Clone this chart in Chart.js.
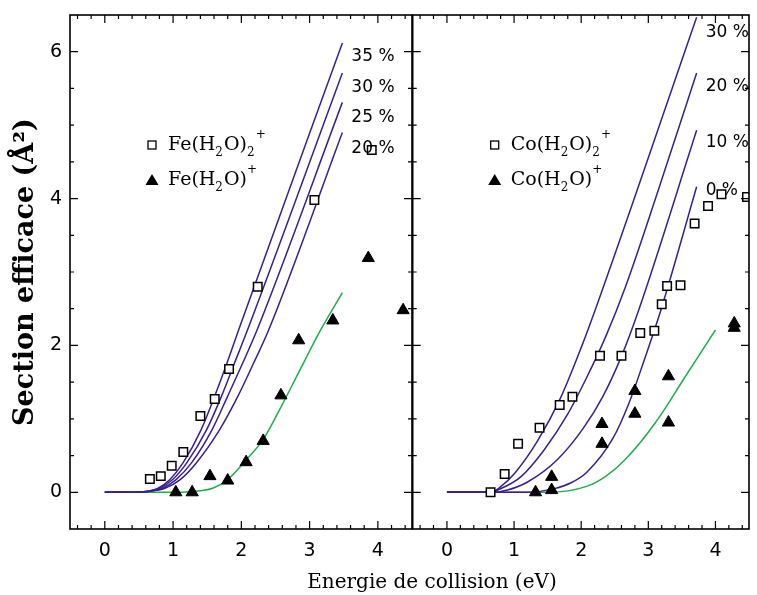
<!DOCTYPE html>
<html>
<head>
<meta charset="utf-8">
<script src="https://cdn.jsdelivr.net/npm/chart.js@4.4.1/dist/chart.umd.min.js"></script>
<style>
  body { margin: 0; background: #fff; }
  #wrap { position: relative; width: 757px; height: 595px; overflow: hidden; background: #fff; }
  #cLeft { position: absolute; left: 0; top: 0; }
  #cRight { position: absolute; left: 400px; top: 0; }
  #xTitle {
    position: absolute; left: 432px; top: 571px; transform: translateX(-50%);
    font: 20px "DejaVu Serif"; line-height: 1; white-space: nowrap; color: #000;
  }
</style>
</head>
<body>
<div id="wrap">
  <canvas id="cLeft" width="420" height="595"></canvas>
  <canvas id="cRight" width="357" height="595"></canvas>
  <div id="xTitle">Energie de collision (eV)</div>
</div>
<script>
// axes
const xTicks = [0, 1, 2, 3, 4];
const yTicks = [0, 2, 4, 6];

// panneau Fe : points mesurés
const feDimer = [[0.66,0.18],[0.82,0.22],[0.98,0.36],[1.15,0.55],[1.40,1.04],[1.61,1.27],[1.82,1.68],[2.24,2.80],[3.07,3.98],[3.91,4.66]];
const feMono = [[1.04,0],[1.28,0],[1.54,0.22],[1.80,0.16],[2.07,0.41],[2.32,0.70],[2.58,1.32],[2.84,2.07],[3.34,2.34],[3.86,3.19],[4.37,2.48]];

// panneau Fe : courbes modèles
const feFit35 = [[0,0],[0.45,0],[0.61,0.01],[0.78,0.055],[0.95,0.17],[1.145,0.40],[1.41,0.85],[1.61,1.31],[1.79,1.76],[1.96,2.21],[3.48,6.12]];
const feFit30 = [[0,0],[0.45,0],[0.61,0.01],[0.80,0.055],[0.99,0.17],[1.20,0.40],[1.49,0.85],[1.71,1.31],[1.90,1.76],[2.09,2.21],[3.48,5.71]];
const feFit25 = [[0,0],[0.45,0],[0.61,0.01],[0.84,0.055],[1.04,0.17],[1.27,0.40],[1.57,0.85],[1.80,1.31],[2.02,1.76],[2.23,2.21],[3.48,5.31]];
const feFit20 = [[0,0],[0.45,0],[0.61,0.01],[0.88,0.055],[1.10,0.17],[1.34,0.40],[1.68,0.85],[1.95,1.31],[2.18,1.76],[2.40,2.21],[3.48,4.90]];
const feFitMono = [[0,0],[1.0,0],[1.19,0.005],[1.58,0.055],[1.81,0.18],[2.06,0.43],[2.32,0.72],[2.58,1.16],[2.85,1.65],[3.15,2.19],[3.48,2.72]];

// panneau Co : points mesurés
const coDimer = [[0.65,0.0],[0.86,0.25],[1.06,0.66],[1.38,0.88],[1.68,1.19],[1.87,1.30],[2.28,1.86],[2.60,1.86],[2.88,2.17],[3.09,2.20],[3.20,2.56],[3.28,2.81],[3.48,2.82],[3.69,3.66],[3.89,3.90],[4.09,4.06],[4.47,4.02]];
const coMono = [[1.32,0],[1.56,0.21],[1.56,0.03],[2.31,0.93],[2.31,0.66],[2.80,1.38],[2.80,1.07],[3.30,1.58],[3.30,0.95],[4.28,2.30],[4.28,2.24]];

// panneau Co : courbes modèles
const coFit30 = [[0,0],[0.55,0],[0.69,0.01],[0.78,0.06],[1.01,0.26],[1.35,0.70],[1.70,1.30],[2.00,1.97],[2.27,2.64],[3.72,6.47]];
const coFit20 = [[0,0],[0.55,0],[0.69,0.01],[0.78,0.04],[1.10,0.21],[1.45,0.58],[1.79,1.05],[2.08,1.56],[2.37,2.13],[2.66,2.80],[3.10,3.98],[3.72,5.71]];
const coFit10 = [[0,0],[0.55,0],[0.69,0.0],[0.9,0.03],[1.20,0.14],[1.64,0.44],[2.03,0.87],[2.32,1.30],[2.59,1.83],[2.86,2.49],[3.72,4.93]];
const coFit0 = [[0,0],[1.2,0],[1.6,0.05],[1.85,0.13],[2.08,0.27],[2.47,0.73],[2.71,1.21],[2.95,1.83],[3.19,2.49],[3.72,4.16]];
const coFitMono = [[0,0],[1.5,0],[2.08,0.08],[2.37,0.22],[2.66,0.45],[3.10,0.94],[3.54,1.56],[4.0,2.21]];

const PURPLE = '#3a1f91';
const GREEN = '#1fae4a';
const TICK_FONT = { family: 'DejaVu Sans', size: 19 };

const xy = arr => arr.map(([x, y]) => ({ x, y }));

// cadre + graduations vers l'intérieur
const frameTicks = {
  id: 'frameTicks',
  afterDatasetsDraw(chart) {
    const { ctx, chartArea: a, scales: { x, y } } = chart;
    ctx.save();
    ctx.strokeStyle = '#000';
    ctx.lineWidth = 1.2;
    ctx.beginPath();
    for (let i = -2; i <= 22; i++) {
      const v = i * 0.2;
      const px = x.getPixelForValue(v);
      if (px <= a.left + 1 || px >= a.right - 1) continue;
      const len = xTicks.some(t => Math.abs(t - v) < 1e-6) ? 8 : 4;
      ctx.moveTo(px, a.bottom); ctx.lineTo(px, a.bottom - len);
      ctx.moveTo(px, a.top); ctx.lineTo(px, a.top + len);
    }
    for (let i = 0; i <= 12; i++) {
      const v = i * 0.5;
      const py = y.getPixelForValue(v);
      const len = yTicks.some(t => Math.abs(t - v) < 1e-6) ? 8 : 4;
      ctx.moveTo(a.left, py); ctx.lineTo(a.left + len, py);
      ctx.moveTo(a.right, py); ctx.lineTo(a.right - len, py);
    }
    ctx.stroke();
    ctx.lineWidth = 1.6;
    ctx.strokeRect(a.left, a.top, a.right - a.left, a.bottom - a.top);
    ctx.restore();
  }
};

function drawRich(ctx, x, y, parts) {
  ctx.textBaseline = 'middle';
  ctx.textAlign = 'left';
  for (const p of parts) {
    ctx.font = p.s ? '12px "DejaVu Serif"' : '19px "DejaVu Serif"';
    const dy = p.s === 'sub' ? 8 : (p.s === 'sup' ? -10 : 0);
    ctx.fillText(p.t, x, y + dy);
    x += ctx.measureText(p.t).width + (p.s ? 1 : 0);
  }
}

// légende + étiquettes des courbes
const annotations = {
  id: 'annotations',
  afterDatasetsDraw(chart) {
    const { ctx, chartArea: a } = chart;
    const o = chart.options.plugins.annotations;
    ctx.save();
    ctx.fillStyle = '#000';
    // étiquettes au bout des courbes
    ctx.font = '17px "DejaVu Sans"';
    ctx.textBaseline = 'middle';
    chart.data.datasets.forEach((ds, i) => {
      if (ds.endLabel === undefined) return;
      const pts = chart.getDatasetMeta(i).data;
      const last = pts[pts.length - 1];
      ctx.fillText(ds.endLabel, last.x + 9, last.y + ds.labelDy);
    });
    // légende
    const mx = a.left + 82, tx = a.left + 98;
    const r1 = a.top + 130, r2 = a.top + 165;
    ctx.strokeStyle = '#000';
    ctx.lineWidth = 1.3;
    ctx.strokeRect(mx - 4, r1 - 4, 8, 8);
    ctx.beginPath();
    ctx.moveTo(mx, r2 - 6); ctx.lineTo(mx + 6.5, r2 + 5); ctx.lineTo(mx - 6.5, r2 + 5);
    ctx.closePath(); ctx.fill();
    drawRich(ctx, tx, r1, o.dimerText);
    drawRich(ctx, tx, r2, o.monoText);
    ctx.restore();
  }
};

function panel(id, p) {
  const datasets = [
    { label: p.dimerLabel, data: xy(p.dimer), showLine: false, pointStyle: 'rect', pointRadius: 6,
      borderColor: '#000', backgroundColor: '#fff', borderWidth: 1.5 },
    { label: p.monoLabel, data: xy(p.mono), showLine: false, pointStyle: 'triangle', pointRadius: 7,
      borderColor: '#000', backgroundColor: '#000', borderWidth: 1 },
    ...p.fits.map(f => ({ label: f.label, endLabel: f.label, labelDy: f.dy, data: xy(f.data), showLine: true,
      pointRadius: 0, borderColor: PURPLE, borderWidth: 1.5, cubicInterpolationMode: 'monotone' })),
    { label: 'modèle ' + p.monoLabel, data: xy(p.green), showLine: true, pointRadius: 0,
      borderColor: GREEN, borderWidth: 1.5, cubicInterpolationMode: 'monotone' }
  ];

  return new Chart(document.getElementById(id), {
    type: 'scatter',
    data: { datasets },
    options: {
      responsive: false,
      animation: false,
      events: [],
      layout: { padding: { top: 15, right: p.padRight, bottom: 0, left: 0 } },
      plugins: {
        legend: { display: false },
        tooltip: { enabled: false },
        annotations: { dimerText: p.dimerText, monoText: p.monoText }
      },
      scales: {
        x: {
          type: 'linear', min: -0.51, max: 4.5,
          grid: { display: false, drawTicks: false },
          border: { display: false },
          afterBuildTicks: s => { s.ticks = xTicks.map(v => ({ value: v })); },
          afterFit: s => { s.height = 66; s.paddingLeft = 0; s.paddingRight = 0; },
          ticks: { color: '#000', font: TICK_FONT, padding: 11, maxRotation: 0, autoSkip: false }
        },
        y: {
          type: 'linear', min: -0.5, max: 6.5,
          grid: { display: false, drawTicks: false },
          border: { display: false },
          afterBuildTicks: s => { s.ticks = yTicks.map(v => ({ value: v })); },
          afterFit: s => { s.width = p.yWidth; s.paddingTop = 0; s.paddingBottom = 0; },
          ticks: { display: p.yLabels, color: '#000', font: TICK_FONT, padding: 8 },
          title: {
            display: p.yLabels, text: 'Section efficace (Å²)', color: '#000',
            font: { family: 'DejaVu Serif', size: 27, weight: 'bold' }, padding: { top: 10, bottom: 0 }
          }
        }
      }
    },
    plugins: [frameTicks, annotations]
  });
}

panel('cLeft', {
  yWidth: 70, padRight: 7.3, yLabels: true,
  dimer: feDimer, mono: feMono, green: feFitMono,
  dimerLabel: 'Fe(H₂O)₂⁺', monoLabel: 'Fe(H₂O)⁺',
  dimerText: [{ t: 'Fe(H' }, { t: '2', s: 'sub' }, { t: 'O)' }, { t: '2', s: 'sub' }, { t: '+', s: 'sup' }],
  monoText: [{ t: 'Fe(H' }, { t: '2', s: 'sub' }, { t: 'O)' }, { t: '+', s: 'sup' }],
  fits: [
    { label: '35 %', data: feFit35, dy: 14 },
    { label: '30 %', data: feFit30, dy: 15 },
    { label: '25 %', data: feFit25, dy: 15 },
    { label: '20 %', data: feFit20, dy: 16 }
  ]
});

panel('cRight', {
  yWidth: 12.7, padRight: 2, yLabels: false,
  dimer: coDimer, mono: coMono, green: coFitMono,
  dimerLabel: 'Co(H₂O)₂⁺', monoLabel: 'Co(H₂O)⁺',
  dimerText: [{ t: 'Co(H' }, { t: '2', s: 'sub' }, { t: 'O)' }, { t: '2', s: 'sub' }, { t: '+', s: 'sup' }],
  monoText: [{ t: 'Co(H' }, { t: '2', s: 'sub' }, { t: 'O)' }, { t: '+', s: 'sup' }],
  fits: [
    { label: '30 %', data: coFit30, dy: 15 },
    { label: '20 %', data: coFit20, dy: 14 },
    { label: '10 %', data: coFit10, dy: 12 },
    { label: '0 %', data: coFit0, dy: 4 }
  ]
});
</script>
</body>
</html>
